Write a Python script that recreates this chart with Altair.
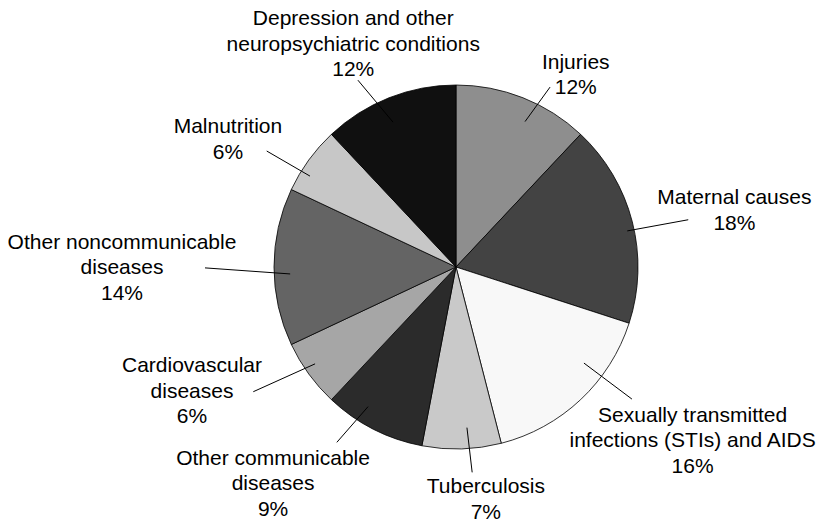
import altair as alt
import pandas as pd

# ---- data (clockwise from 12 o'clock) ----
categories = [
    "Injuries",
    "Maternal causes",
    "Sexually transmitted infections (STIs) and AIDS",
    "Tuberculosis",
    "Other communicable diseases",
    "Cardiovascular diseases",
    "Other noncommunicable diseases",
    "Malnutrition",
    "Depression and other neuropsychiatric conditions",
]
shares = [12, 18, 16, 7, 9, 6, 14, 6, 12]
label_lines = [
    "Injuries",
    "Maternal causes",
    "Sexually transmitted\ninfections (STIs) and AIDS",
    "Tuberculosis",
    "Other communicable\ndiseases",
    "Cardiovascular\ndiseases",
    "Other noncommunicable\ndiseases",
    "Malnutrition",
    "Depression and other\nneuropsychiatric conditions",
]
fills = ["#8e8e8e", "#434343", "#f8f8f8", "#c9c9c9", "#2b2b2b",
         "#a6a6a6", "#646464", "#c7c7c7", "#101010"]

# ---- callout layout: angle shift (deg) from slice middle, radius (px) ----
line_in_shift = [3.8, 2.5, -9.9, -2.1, 5.2, 1.5, -2.4, -4.1, -1.9]
line_in_r = [161, 175, 160, 161, 165, 171, 166, 172, 158]
line_out_shift = [6.0, 2.9, -9.9, -2.7, 7.2, 4.4, -0.2, -4.5, -6.1]
line_out_r = [203, 237, 220, 206, 212, 238, 251, 222, 211]
label_shift = [10.4, 3.0, -10.4, -5.5, 13.1, 10.7, -0.2, -6.9, -3.2]
label_r = [226, 284, 294, 235, 284, 292, 334, 261, 245]

W, H = 700, 480
PIE_R = 182
FONT_SIZE = 21
LINE_H = 25.5

texts = [f"{l}\n{v}%" for l, v in zip(label_lines, shares)]
df = pd.DataFrame({
    "category": categories,
    "share": shares,
    "order": list(range(len(categories))),
    "text": texts,
    "n_lines": [t.count("\n") + 1 for t in texts],
    "in_shift": line_in_shift,
    "in_r": line_in_r,
    "out_shift": line_out_shift,
    "out_r": line_out_r,
    "lab_shift": label_shift,
    "lab_r": label_r,
})

base = (
    alt.Chart(df)
    .transform_window(cum="sum(share)", sort=[alt.SortField("order")], frame=[None, 0])
    .transform_joinaggregate(total="sum(share)")
    .transform_calculate(mid="2*PI*(datum.cum - datum.share/2)/datum.total")
    .transform_calculate(
        a_in="datum.mid + datum.in_shift*PI/180",
        a_out="datum.mid + datum.out_shift*PI/180",
        a_lab="datum.mid + datum.lab_shift*PI/180",
    )
    .transform_calculate(
        x_in="datum.in_r*sin(datum.a_in)",
        y_in="datum.in_r*cos(datum.a_in)",
        x_out="datum.out_r*sin(datum.a_out)",
        y_out="datum.out_r*cos(datum.a_out)",
        x_lab="datum.lab_r*sin(datum.a_lab)",
        # first line sits at the anchor: lift the block so it is centred
        y_lab=f"datum.lab_r*cos(datum.a_lab) + (datum.n_lines - 1)*{LINE_H}/2",
    )
)

xscale = alt.Scale(domain=[-W / 2, W / 2], nice=False, zero=False)
yscale = alt.Scale(domain=[-H / 2, H / 2], nice=False, zero=False)

pie = base.mark_arc(radius=PIE_R, stroke="black", strokeWidth=0.8).encode(
    theta=alt.Theta("share:Q", stack=True),
    order=alt.Order("order:Q"),
    color=alt.Color("category:N", scale=alt.Scale(domain=categories, range=fills), legend=None),
)

leader = base.mark_rule(color="black", strokeWidth=1).encode(
    x=alt.X("x_in:Q", scale=xscale, axis=None),
    y=alt.Y("y_in:Q", scale=yscale, axis=None),
    x2="x_out:Q",
    y2="y_out:Q",
)

labels = base.mark_text(
    font="Liberation Sans", fontSize=FONT_SIZE, lineHeight=LINE_H, lineBreak="\n",
    align="center", baseline="middle", color="black",
).encode(
    x=alt.X("x_lab:Q", scale=xscale, axis=None),
    y=alt.Y("y_lab:Q", scale=yscale, axis=None),
    text="text:N",
)

chart = (
    alt.layer(pie, leader, labels)
    .properties(
        width=W, height=H,
        padding={"left": 98, "top": 19, "right": 11, "bottom": 16},
        autosize=alt.AutoSizeParams(type="none"),
        background="white",
    )
    .configure_view(stroke=None)
)

chart.save("out.html", embed_options={"renderer": "svg", "actions": False})
